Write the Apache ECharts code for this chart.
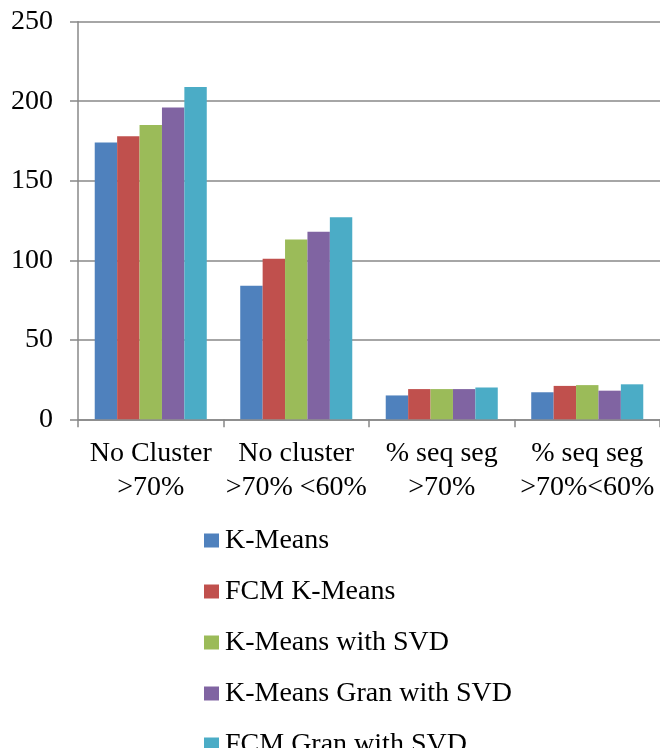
<!DOCTYPE html>
<html><head><meta charset="utf-8">
<script src="https://cdn.jsdelivr.net/npm/echarts@6/dist/echarts.min.js"></script>
<style>html,body{margin:0;padding:0;background:#fff}#c{width:660px;height:748px}</style>
</head><body><div id="c"></div>
<script>
var categories = ['No Cluster\n>70%', 'No cluster\n>70% <60%', '% seq seg\n>70%', '% seq seg\n>70%<60%'];
var seriesNames = ['K-Means', 'FCM K-Means', 'K-Means with SVD', 'K-Means Gran with SVD', 'FCM Gran with SVD'];
var kMeans = [174, 84, 15, 17];
var fcmKMeans = [178, 101, 19, 21];
var kMeansSvd = [185, 113, 19, 21.5];
var kMeansGranSvd = [196, 118, 19, 18];
var fcmGranSvd = [209, 127, 20, 22];
var yTicks = { min: 0, max: 250, interval: 50 };
var colors = ['#4F81BD', '#C0504D', '#9BBB59', '#8064A2', '#4BACC6'];
var values = [kMeans, fcmKMeans, kMeansSvd, kMeansGranSvd, fcmGranSvd];
var font = '"Liberation Serif", "Times New Roman", serif';

var chart = echarts.init(document.getElementById('c'));
chart.setOption({
  animation: false,
  color: colors,
  textStyle: { fontFamily: font },
  grid: { left: 78, right: 0, top: 21.7, bottom: 328.7, containLabel: false },
  legend: {
    orient: 'vertical', left: 199, top: 521, height: 400,
    itemWidth: 15, itemHeight: 14, itemGap: 22,
    icon: 'rect',
    textStyle: { fontFamily: font, fontSize: 28, color: '#000', lineHeight: 29, padding: [0, 0, 0, 1] },
    data: seriesNames
  },
  xAxis: {
    type: 'category', data: categories,
    axisLine: { lineStyle: { color: '#888', width: 1.5 } },
    axisTick: { show: true, length: 8, lineStyle: { color: '#888', width: 1.5 } },
    axisLabel: { color: '#000', fontSize: 28, fontFamily: font, lineHeight: 34, margin: 17, interval: 0 }
  },
  yAxis: {
    type: 'value', min: yTicks.min, max: yTicks.max, interval: yTicks.interval,
    axisLine: { show: true, lineStyle: { color: '#888', width: 1.5 } },
    axisTick: { show: true, length: 8, lineStyle: { color: '#888', width: 1.5 } },
    splitLine: { lineStyle: { color: '#888', width: 1.5 } },
    axisLabel: { color: '#000', fontSize: 28, fontFamily: font, margin: 25 }
  },
  series: seriesNames.map(function (n, i) {
    return {
      name: n, type: 'bar', data: values[i],
      barGap: '0%', barCategoryGap: '23%',
      itemStyle: { color: colors[i] }
    };
  })
});
</script></body></html>
